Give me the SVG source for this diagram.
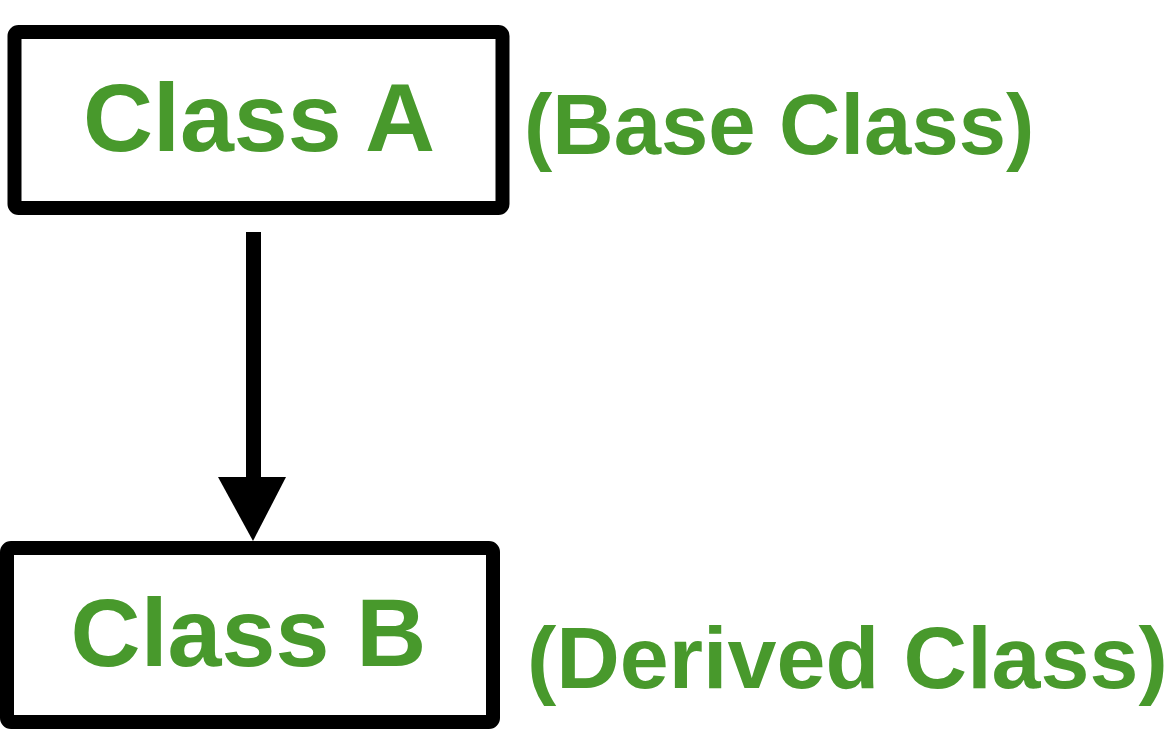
<svg xmlns="http://www.w3.org/2000/svg" width="1169" height="740" viewBox="0 0 1169 740">
  <style>
    .box { fill: #ffffff; stroke: #000000; stroke-width: 14; }
    .lbl { font-family: "Liberation Sans", Arial, sans-serif; font-weight: bold; fill: #48992c; }
    .conn { stroke: #000000; stroke-width: 15; fill: none; }
    .head { fill: #000000; }
  </style>
  <rect width="1169" height="740" fill="#ffffff"/>
  <g id="connectors">
    <path class="conn" d="M253.5,232 L253.5,478"/>
    <path class="head" d="M218,477 L286,477 L253,541 Z"/>
  </g>
  <g id="classA">
    <rect class="box" x="14.5" y="32" width="488" height="176" rx="4"/>
    <text class="lbl" x="259" y="151" font-size="97" text-anchor="middle">Class A</text>
  </g>
  <g id="classB">
    <rect class="box" x="7" y="548" width="486" height="174" rx="4"/>
    <text class="lbl" x="248.5" y="666" font-size="97" text-anchor="middle">Class B</text>
  </g>
  <g id="baseLabel">
    <text class="lbl" x="524" y="154" font-size="85">(Base Class)</text>
  </g>
  <g id="derivedLabel">
    <text class="lbl" x="527" y="688" font-size="88">(Derived Class)</text>
  </g>
</svg>
